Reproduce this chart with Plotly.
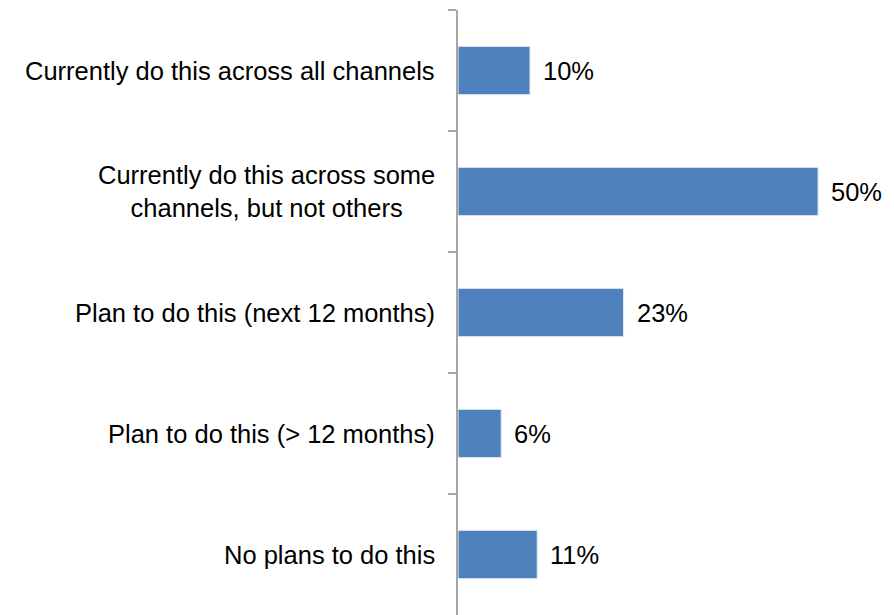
import plotly.graph_objects as go

categories = [
    "Currently do this across all channels",
    "Currently do this across some<br>channels, but not others",
    "Plan to do this (next 12 months)",
    "Plan to do this (> 12 months)",
    "No plans to do this",
]
values = [10, 50, 23, 6, 11]
value_labels = ["10%", "50%", "23%", "6%", "11%"]

FONT = "Liberation Sans, Arial, sans-serif"
FS = 25.5

fig = go.Figure()
fig.add_trace(go.Bar(
    y=categories,
    x=values,
    orientation="h",
    marker=dict(color="#4F81BD", line=dict(color="#E8EEF6", width=1)),
    width=0.4,
    hoverinfo="skip",
))

for c, v, t in zip(categories, values, value_labels):
    fig.add_annotation(x=v, y=c, xref="x", yref="y", text=t, showarrow=False,
                       xanchor="left", xshift=11,
                       font=dict(family=FONT, size=FS, color="#000000"))
    fig.add_annotation(x=0, y=c, xref="paper", yref="y", text=c, showarrow=False,
                       xanchor="right", align="center", xshift=-21,
                       font=dict(family=FONT, size=FS, color="#000000"))

fig.update_layout(
    width=894, height=615,
    margin=dict(l=450, r=4, t=2, b=8),
    paper_bgcolor="white", plot_bgcolor="white",
    showlegend=False,
    xaxis=dict(range=[0, 61.1], visible=False, showgrid=False, zeroline=False,
               automargin=False),
    yaxis=dict(
        categoryorder="array", categoryarray=categories, autorange="reversed",
        showticklabels=False, showgrid=False, zeroline=False, automargin=False,
        showline=True, linecolor="#A6A6A6", linewidth=1.5,
        ticks="outside", ticklen=8, tickcolor="#A6A6A6", tickwidth=1.5,
        tickson="boundaries",
    ),
)

fig.write_html("out.html")
